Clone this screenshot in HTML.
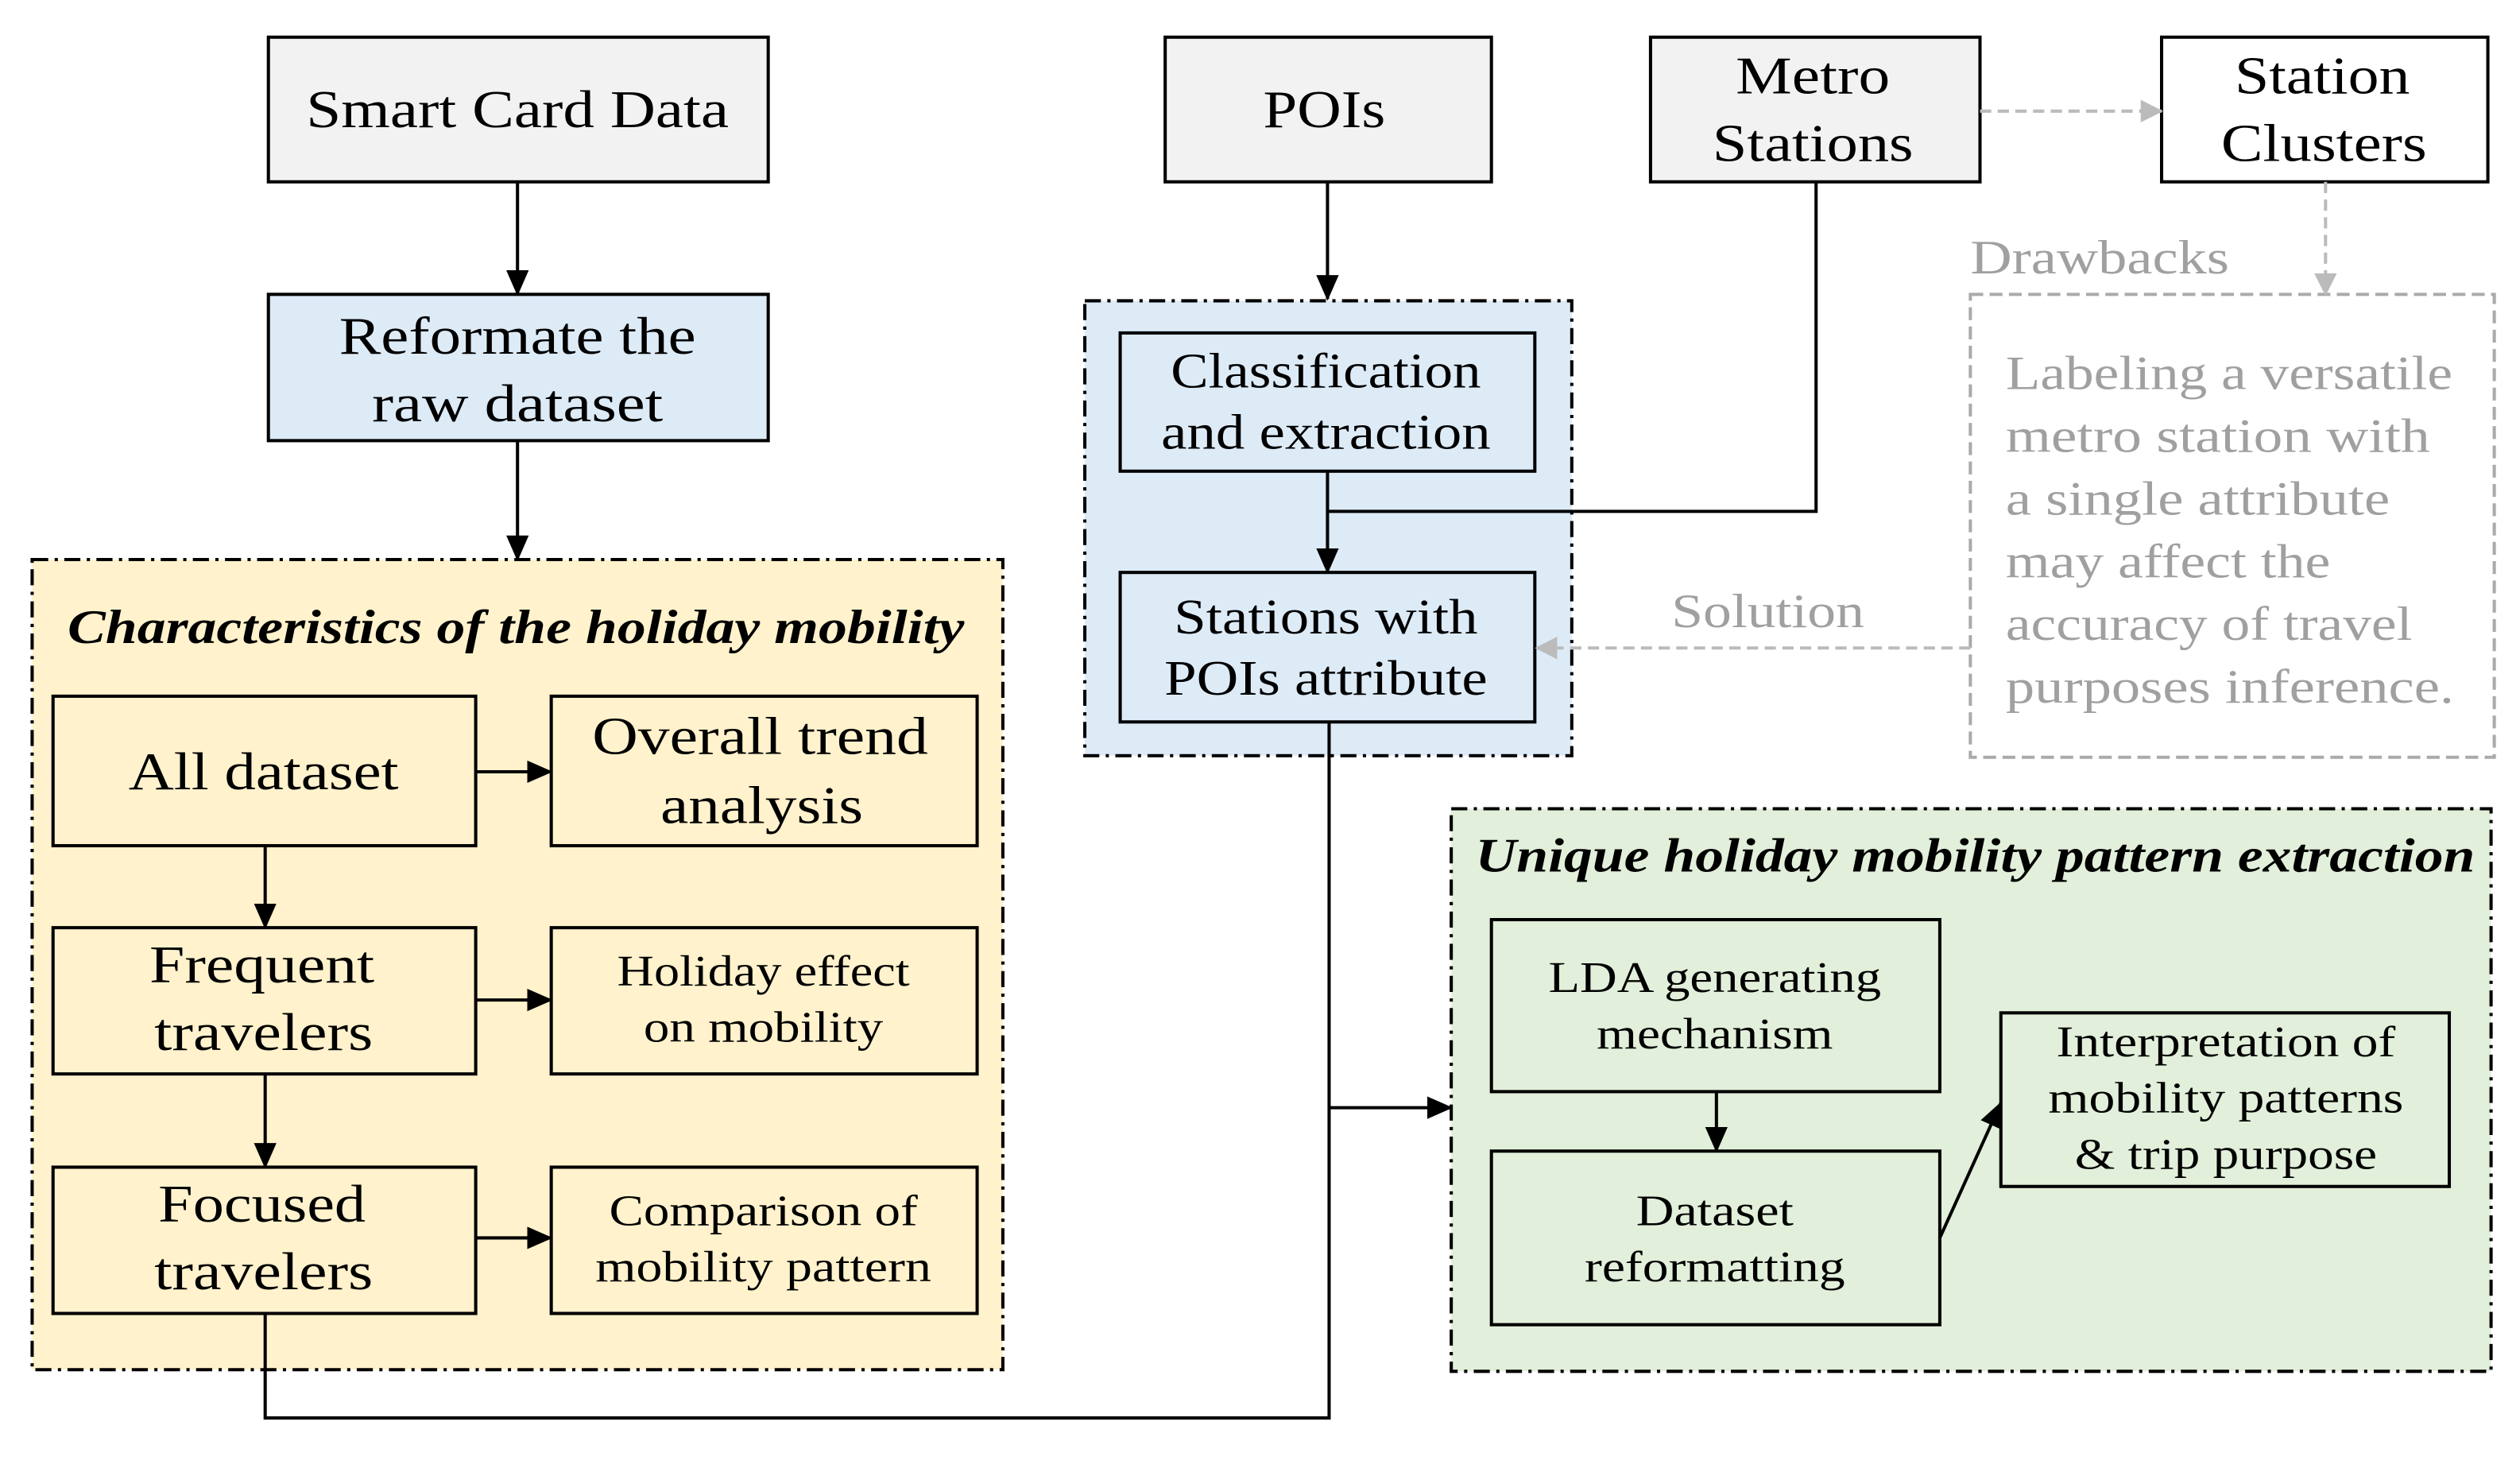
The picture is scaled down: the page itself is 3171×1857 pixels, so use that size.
<!DOCTYPE html>
<html><head><meta charset="utf-8"><style>
html,body{margin:0;padding:0;background:#fff}
svg{display:block}
text{font-family:"Liberation Serif",serif;fill:#000}
.g{fill:#a0a0a0}
</style></head><body>
<svg width="3171" height="1857" viewBox="0 0 1568 918" xmlns="http://www.w3.org/2000/svg">
<defs>
<marker id="ag" markerWidth="14" markerHeight="14" refX="13" refY="7" orient="auto" markerUnits="userSpaceOnUse"><path d="M0,0 L14,7 L0,14 z" fill="#bbb"/></marker>
<marker id="a2" markerWidth="16" markerHeight="16" refX="15" refY="8" orient="auto" markerUnits="userSpaceOnUse"><path d="M0,1 L16,8 L0,15 z" fill="#000"/></marker>
</defs>
<g stroke="#000" stroke-width="2">
<rect x="20" y="348" width="604" height="504" fill="#fff2cc" stroke-dasharray="10,4,2,4"/>
<rect x="675" y="187" width="303" height="283" fill="#ddebf7" stroke-dasharray="10,4,2,4"/>
<rect x="903" y="503" width="647" height="350" fill="#e2efda" stroke-dasharray="10,4,2,4"/>
<rect x="1226" y="183" width="326" height="288" fill="#fff" stroke="#aaa" stroke-dasharray="8,4"/>
<rect x="167" y="23" width="311" height="90" fill="#f2f2f2"/>
<rect x="167" y="183" width="311" height="91" fill="#ddebf7"/>
<rect x="725" y="23" width="203" height="90" fill="#f2f2f2"/>
<rect x="1027" y="23" width="205" height="90" fill="#f2f2f2"/>
<rect x="1345" y="23" width="203" height="90" fill="#fff"/>
<rect x="697" y="207" width="258" height="86" fill="#ddebf7"/>
<rect x="697" y="356" width="258" height="93" fill="#ddebf7"/>
<rect x="33" y="433" width="263" height="93" fill="#fff2cc"/>
<rect x="343" y="433" width="265" height="93" fill="#fff2cc"/>
<rect x="33" y="577" width="263" height="91" fill="#fff2cc"/>
<rect x="343" y="577" width="265" height="91" fill="#fff2cc"/>
<rect x="33" y="726" width="263" height="91" fill="#fff2cc"/>
<rect x="343" y="726" width="265" height="91" fill="#fff2cc"/>
<rect x="928" y="572" width="279" height="107" fill="#e2efda"/>
<rect x="928" y="716" width="279" height="108" fill="#e2efda"/>
<rect x="1245" y="630" width="279" height="108" fill="#e2efda"/>
<g fill="none">
<line x1="322" y1="113" x2="322" y2="183" marker-end="url(#a2)"/>
<line x1="322" y1="274" x2="322" y2="348" marker-end="url(#a2)"/>
<line x1="826" y1="113" x2="826" y2="186" marker-end="url(#a2)"/>
<line x1="826" y1="293" x2="826" y2="356" marker-end="url(#a2)"/>
<polyline points="1130,113 1130,318 826,318"/>
<line x1="296" y1="480" x2="343" y2="480" marker-end="url(#a2)"/>
<line x1="296" y1="622" x2="343" y2="622" marker-end="url(#a2)"/>
<line x1="296" y1="770" x2="343" y2="770" marker-end="url(#a2)"/>
<line x1="165" y1="526" x2="165" y2="577" marker-end="url(#a2)"/>
<line x1="165" y1="668" x2="165" y2="726" marker-end="url(#a2)"/>
<polyline points="165,817 165,882 827,882 827,449"/>
<line x1="827" y1="689" x2="903" y2="689" marker-end="url(#a2)"/>
<line x1="1068" y1="679" x2="1068" y2="716" marker-end="url(#a2)"/>
<line x1="1207" y1="770" x2="1245" y2="686" marker-end="url(#a2)"/>
<g stroke="#bbb" stroke-dasharray="7,4">
<line x1="1232" y1="69" x2="1345" y2="69" marker-end="url(#ag)"/>
<line x1="1447" y1="113" x2="1447" y2="183" marker-end="url(#ag)"/>
<line x1="1226" y1="403" x2="956" y2="403" marker-end="url(#ag)"/>
</g>
</g>
</g>
<g text-anchor="middle" font-size="33" lengthAdjust="spacingAndGlyphs">
<text x="322" y="79" textLength="263" lengthAdjust="spacingAndGlyphs">Smart Card Data</text>
<text x="322" y="220" textLength="222" lengthAdjust="spacingAndGlyphs">Reformate the</text>
<text x="322" y="262" textLength="181" lengthAdjust="spacingAndGlyphs">raw dataset</text>
<text x="824" y="79" textLength="76" lengthAdjust="spacingAndGlyphs">POIs</text>
<text x="1128" y="58" textLength="96" lengthAdjust="spacingAndGlyphs">Metro</text>
<text x="1128" y="100" textLength="125" lengthAdjust="spacingAndGlyphs">Stations</text>
<text x="1445" y="58" textLength="109" lengthAdjust="spacingAndGlyphs">Station</text>
<text x="1446" y="100" textLength="128" lengthAdjust="spacingAndGlyphs">Clusters</text>
<text x="825" y="241" font-size="31" textLength="193" lengthAdjust="spacingAndGlyphs">Classification</text>
<text x="825" y="279" font-size="31" textLength="205" lengthAdjust="spacingAndGlyphs">and extraction</text>
<text x="825" y="394" font-size="31" textLength="189" lengthAdjust="spacingAndGlyphs">Stations with</text>
<text x="825" y="432" font-size="31" textLength="201" lengthAdjust="spacingAndGlyphs">POIs attribute</text>
<text x="164" y="491" textLength="168" lengthAdjust="spacingAndGlyphs">All dataset</text>
<text x="473" y="469" textLength="209" lengthAdjust="spacingAndGlyphs">Overall trend</text>
<text x="474" y="512" textLength="126" lengthAdjust="spacingAndGlyphs">analysis</text>
<text x="163" y="611" textLength="140" lengthAdjust="spacingAndGlyphs">Frequent</text>
<text x="164" y="653" textLength="136" lengthAdjust="spacingAndGlyphs">travelers</text>
<text x="475" y="613" font-size="27" textLength="182" lengthAdjust="spacingAndGlyphs">Holiday effect</text>
<text x="475" y="648" font-size="27" textLength="149" lengthAdjust="spacingAndGlyphs">on mobility</text>
<text x="163" y="760" textLength="129" lengthAdjust="spacingAndGlyphs">Focused</text>
<text x="164" y="802" textLength="136" lengthAdjust="spacingAndGlyphs">travelers</text>
<text x="475" y="762" font-size="27" textLength="192" lengthAdjust="spacingAndGlyphs">Comparison of</text>
<text x="475" y="797" font-size="27" textLength="209" lengthAdjust="spacingAndGlyphs">mobility pattern</text>
<text x="1067" y="617" font-size="27" textLength="207" lengthAdjust="spacingAndGlyphs">LDA generating</text>
<text x="1067" y="652" font-size="27" textLength="147" lengthAdjust="spacingAndGlyphs">mechanism</text>
<text x="1067" y="762" font-size="27" textLength="98" lengthAdjust="spacingAndGlyphs">Dataset</text>
<text x="1067" y="797" font-size="27" textLength="162" lengthAdjust="spacingAndGlyphs">reformatting</text>
<text x="1385" y="657" font-size="27" textLength="211" lengthAdjust="spacingAndGlyphs">Interpretation of</text>
<text x="1385" y="692" font-size="27" textLength="221" lengthAdjust="spacingAndGlyphs">mobility patterns</text>
<text x="1385" y="727" font-size="27" textLength="188" lengthAdjust="spacingAndGlyphs">&amp; trip purpose</text>
<text x="321" y="400" font-size="30" font-style="italic" font-weight="bold" textLength="558" lengthAdjust="spacingAndGlyphs">Characteristics of the holiday mobility</text>
<text x="1229" y="542" font-size="30" font-style="italic" font-weight="bold" textLength="622" lengthAdjust="spacingAndGlyphs">Unique holiday mobility pattern extraction</text>
</g>
<g font-size="30">
<text class="g" x="1226" y="170" textLength="161" lengthAdjust="spacingAndGlyphs">Drawbacks</text>
<text class="g" x="1040" y="390" textLength="120" lengthAdjust="spacingAndGlyphs">Solution</text>
<text class="g" x="1248" y="242" textLength="278" lengthAdjust="spacingAndGlyphs">Labeling a versatile</text>
<text class="g" x="1248" y="281" textLength="264" lengthAdjust="spacingAndGlyphs">metro station with</text>
<text class="g" x="1248" y="320" textLength="239" lengthAdjust="spacingAndGlyphs">a single attribute</text>
<text class="g" x="1248" y="359" textLength="202" lengthAdjust="spacingAndGlyphs">may affect the</text>
<text class="g" x="1248" y="398" textLength="253" lengthAdjust="spacingAndGlyphs">accuracy of travel</text>
<text class="g" x="1248" y="437" textLength="279" lengthAdjust="spacingAndGlyphs">purposes inference.</text>
</g>
</svg>
</body></html>
